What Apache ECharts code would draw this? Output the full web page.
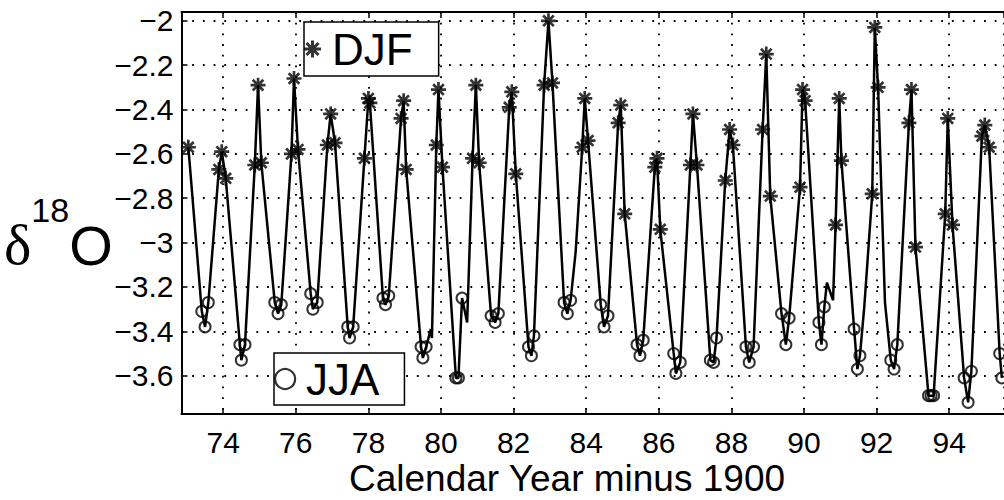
<!DOCTYPE html>
<html><head><meta charset="utf-8">
<script src="https://cdn.jsdelivr.net/npm/echarts@6/dist/echarts.min.js"></script>
<style>html,body{margin:0;padding:0;background:#fff}#c{width:1004px;height:500px}</style>
</head><body><div id="c"></div>
<script>
// DJF (winter) samples: asterisks
const djfX = [73.04, 73.88,73.96,74.07, 74.87,74.96,75.05, 75.88,75.95,76.06, 76.87,76.96,77.08,
  77.89,78.00,78.04, 78.90,78.97,79.04, 79.87,79.93,80.04, 80.87,80.96,81.05, 81.88,81.95,82.06,
  82.84,82.96,83.07, 83.89,83.96,84.05, 84.88,84.95,85.06, 85.89,85.95,86.04, 86.87,86.94,87.05,
  87.83,87.95,88.04, 88.86,88.96,89.07, 89.89,89.96,90.03, 90.87,90.97,91.03, 91.88,91.95,92.04,
  92.89,92.96,93.07, 93.89,93.96,94.09, 94.90,94.98,95.10];
const djfY = [-2.57, -2.67,-2.59,-2.71, -2.65,-2.29,-2.64, -2.60,-2.26,-2.58, -2.56,-2.42,-2.55,
  -2.62,-2.35,-2.37, -2.44,-2.36,-2.67, -2.56,-2.31,-2.66, -2.62,-2.29,-2.64, -2.39,-2.32,-2.69,
  -2.29,-2.00,-2.28, -2.57,-2.35,-2.54, -2.46,-2.38,-2.87, -2.66,-2.62,-2.94, -2.65,-2.42,-2.65,
  -2.72,-2.49,-2.56, -2.49,-2.15,-2.79, -2.75,-2.31,-2.36, -2.92,-2.35,-2.63, -2.78,-2.03,-2.30,
  -2.46,-2.31,-3.02, -2.87,-2.44,-2.92, -2.52,-2.47,-2.57];
// JJA (summer) samples: circles
const jjaX = [73.41,73.50,73.59, 74.46,74.50,74.60, 75.42,75.51,75.60, 76.41,76.47,76.59,
  77.43,77.48,77.58, 78.40,78.47,78.56, 79.45,79.50,79.59, 80.41,80.48,80.58, 81.38,81.49,81.58,
  82.41,82.49,82.56, 83.39,83.48,83.57, 84.40,84.49,84.60, 85.40,85.48,85.57, 86.41,86.47,86.59,
  87.42,87.51,87.59, 88.40,88.49,88.61, 89.38,89.50,89.59, 90.41,90.48,90.56, 91.38,91.47,91.54,
  92.39,92.48,92.57, 93.43,93.50,93.57, 94.41,94.52,94.61, 95.39,95.45];
const jjaY = [-3.31,-3.38,-3.27, -3.46,-3.53,-3.46, -3.27,-3.32,-3.28, -3.23,-3.30,-3.27,
  -3.38,-3.43,-3.38, -3.25,-3.28,-3.24, -3.47,-3.52,-3.47, -3.61,-3.61,-3.25, -3.33,-3.36,-3.32,
  -3.47,-3.51,-3.42, -3.27,-3.32,-3.26, -3.28,-3.38,-3.33, -3.46,-3.51,-3.44, -3.50,-3.59,-3.54,
  -3.53,-3.54,-3.43, -3.47,-3.54,-3.47, -3.32,-3.46,-3.34, -3.36,-3.46,-3.29, -3.39,-3.57,-3.51,
  -3.53,-3.57,-3.46, -3.69,-3.69,-3.69, -3.61,-3.72,-3.58, -3.50,-3.61];
// other samples on the curve (kinks between seasons)
const otherX = [79.72, 79.75, 80.72, 83.71, 90.63, 90.80, 91.66, 92.23];
const otherY = [-3.39, -3.43, -3.36, -3.04, -3.18, -3.26, -3.29, -3.27];

const xTitle = 'Calendar Year minus 1900';
const legendNames = ['DJF', 'JJA'];

const FONT = '"Liberation Sans", Arial, Helvetica, sans-serif';
const STAR = 'path://M0 41L100 41L100 59L0 59Z M41 0L59 0L59 100L41 100Z M21.0 8.2L91.8 79.0L79.0 91.8L8.2 21.0Z M8.2 79.0L79.0 8.2L91.8 21.0L21.0 91.8Z';

const curve = [];
djfX.forEach((x, i) => curve.push([x, djfY[i]]));
jjaX.forEach((x, i) => curve.push([x, jjaY[i]]));
otherX.forEach((x, i) => curve.push([x, otherY[i]]));
curve.sort((a, b) => a[0] - b[0]);
const djfPts = djfX.map((x, i) => [x, djfY[i]]);
const jjaPts = jjaX.map((x, i) => [x, jjaY[i]]);

const chart = echarts.init(document.getElementById('c'), null, {renderer: 'svg', width: 1004, height: 500});
const axisLine = {show: true, onZero: false, lineStyle: {color: '#000', width: 2}};
const axisTick = {show: true, inside: true, length: 6, lineStyle: {color: '#000', width: 1.5}};
const dotted = {show: true, lineStyle: {color: '#000', width: 1.8, type: [1.8, 8.9]}};
const xBase = {type: 'value', min: 72.851, max: 95.509, minInterval: 2, maxInterval: 2};

chart.setOption({
  animation: false,
  backgroundColor: '#fff',
  grid: {left: 181.5, right: -2, top: 12, bottom: 86, containLabel: false},
  xAxis: [
    Object.assign({}, xBase, {position: 'bottom', axisLine, axisTick,
      axisLabel: {margin: 13, fontSize: 30, color: '#000', fontFamily: FONT, showMinLabel: false, showMaxLabel: false},
      splitLine: dotted}),
    Object.assign({}, xBase, {position: 'top', axisLine, axisTick,
      axisLabel: {show: false}, splitLine: {show: false}})
  ],
  yAxis: {type: 'value', min: -3.7727, max: -1.9603, minInterval: 0.2, maxInterval: 0.2,
    axisLine, axisTick,
    axisLabel: {margin: 8, fontSize: 30, color: '#000', fontFamily: FONT, showMinLabel: false, showMaxLabel: false,
      formatter: v => String(v).replace('-', '\u2212')},
    splitLine: dotted},
  legend: [
    {data: [legendNames[0]], left: 304, top: 22, padding: [5, 26, 5, 0], itemWidth: 29, itemHeight: 17,
      icon: STAR, itemStyle: {color: '#000', borderWidth: 0}, selectedMode: false,
      textStyle: {fontSize: 44, lineHeight: 44, color: '#000', fontFamily: FONT},
      backgroundColor: '#fff', borderColor: '#000', borderWidth: 1.5, borderRadius: 0},
    {data: [legendNames[1]], left: 274, top: 353, padding: [4, 25, 4, 0], itemWidth: 32, itemHeight: 20,
      icon: 'circle', itemStyle: {color: 'rgba(0,0,0,0)', borderColor: '#000', borderWidth: 2.2}, selectedMode: false,
      textStyle: {fontSize: 44, lineHeight: 44, color: '#000', fontFamily: FONT},
      backgroundColor: '#fff', borderColor: '#000', borderWidth: 1.5, borderRadius: 0}
  ],
  series: [
    {type: 'line', name: 'curve', data: curve, showSymbol: false, symbol: 'none',
      lineStyle: {color: '#000', width: 2.5}, z: 3},
    {type: 'scatter', name: legendNames[0], data: djfPts, symbol: STAR, symbolSize: 15,
      itemStyle: {color: '#000'}, z: 4},
    {type: 'scatter', name: legendNames[1], data: jjaPts, symbol: 'circle', symbolSize: 11,
      itemStyle: {color: 'rgba(0,0,0,0)', borderColor: '#000', borderWidth: 2}, z: 4}
  ],
  graphic: [
    {type: 'text', x: 4, y: 233, style: {
      text: '{d|δ}{s|18}{o|O}', align: 'left', verticalAlign: 'middle', fill: '#000',
      rich: {
        d: {font: '58px "Liberation Serif", serif', lineHeight: 58, verticalAlign: 'bottom', fill: '#000'},
        s: {font: '34px ' + FONT, padding: [0, 0, 46, 0], verticalAlign: 'top', fill: '#000'},
        o: {font: '56px ' + FONT, lineHeight: 58, verticalAlign: 'bottom', fill: '#000'}
      }}},
    {type: 'text', x: 567, y: 478, style: {text: xTitle, font: '37px ' + FONT, fill: '#000', align: 'center', verticalAlign: 'middle'}}
  ]
});
</script></body></html>
